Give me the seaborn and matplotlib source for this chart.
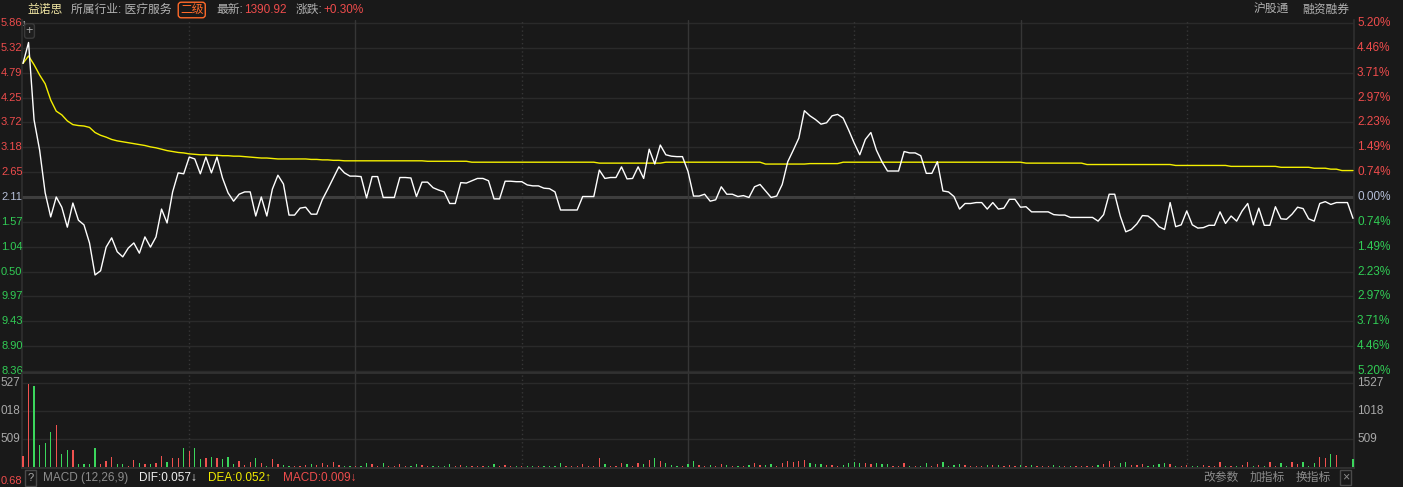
import matplotlib
matplotlib.use("Agg")
import matplotlib.pyplot as plt
import pandas as pd
import seaborn as sns

# ---------------- data (one value per trading minute, 09:30 -> 15:00) ----------------
prev_close = 72.11

price = [
    74.99, 75.44, 73.77, 73.12, 72.20, 71.68, 72.11, 71.89, 71.46, 71.98,
    71.61, 71.51, 71.12, 70.43, 70.52, 71.03, 71.23, 70.93, 70.82, 71.01,
    71.12, 70.90, 71.25, 71.03, 71.25, 71.85, 71.55, 72.22, 72.63, 72.61,
    72.97, 72.93, 72.61, 72.97, 72.63, 72.97, 72.52, 72.20, 72.02, 72.17,
    72.22, 72.22, 71.70, 72.11, 71.70, 72.28, 72.58, 72.39, 71.72, 71.72,
    71.87, 71.89, 71.74, 71.74, 72.05, 72.28, 72.52, 72.76, 72.63, 72.56,
    72.56, 72.55, 72.09, 72.55, 72.55, 72.10, 72.10, 72.10, 72.53, 72.53,
    72.52, 72.12, 72.43, 72.43, 72.31, 72.26, 72.22, 71.97, 71.97, 72.42,
    72.41, 72.46, 72.51, 72.51, 72.46, 72.07, 72.07, 72.45, 72.45, 72.44,
    72.44, 72.37, 72.35, 72.35, 72.30, 72.29, 72.22, 71.83, 71.83, 71.83,
    71.83, 72.12, 72.12, 72.12, 72.69, 72.51, 72.53, 72.53, 72.76, 72.50,
    72.51, 72.76, 72.51, 73.14, 72.82, 73.23, 73.02, 72.99, 72.98, 72.98,
    72.66, 72.13, 72.13, 72.17, 72.02, 72.05, 72.33, 72.17, 72.17, 72.12,
    72.14, 72.10, 72.33, 72.38, 72.24, 72.10, 72.13, 72.38, 72.87, 73.12,
    73.38, 73.97, 73.86, 73.78, 73.68, 73.71, 73.86, 73.89, 73.81, 73.55,
    73.27, 73.02, 73.35, 73.50, 73.12, 72.87, 72.67, 72.67, 72.67, 73.09,
    73.06, 73.06, 73.00, 72.62, 72.62, 72.87, 72.24, 72.22, 72.12, 71.85,
    71.97, 71.97, 71.99, 71.99, 71.85, 71.99, 71.85, 71.87, 72.06, 72.06,
    71.89, 71.90, 71.79, 71.79, 71.79, 71.79, 71.73, 71.72, 71.72, 71.67,
    71.67, 71.67, 71.67, 71.67, 71.59, 71.73, 72.17, 72.17, 71.70, 71.36,
    71.41, 71.53, 71.71, 71.70, 71.61, 71.47, 71.41, 71.99, 71.47, 71.51,
    71.81, 71.51, 71.44, 71.45, 71.50, 71.50, 71.79, 71.54, 71.70, 71.59,
    71.81, 71.97, 71.51, 71.87, 71.50, 71.50, 71.90, 71.64, 71.63, 71.74,
    71.89, 71.86, 71.64, 71.59, 71.97, 72.01, 71.95, 71.99, 71.99, 71.99,
    71.65,
]

avg_price = [
    74.99, 75.15, 74.96, 74.74, 74.55, 74.20, 73.96, 73.88, 73.75, 73.67,
    73.65, 73.64, 73.61, 73.50, 73.44, 73.40, 73.35, 73.32, 73.30, 73.28,
    73.26, 73.24, 73.22, 73.19, 73.17, 73.14, 73.11, 73.09, 73.07, 73.06,
    73.04, 73.03, 73.02, 73.02, 73.01, 73.01, 73.00, 73.00, 72.99, 72.99,
    72.98, 72.97, 72.96, 72.95, 72.95, 72.94, 72.93, 72.93, 72.93, 72.93,
    72.93, 72.93, 72.92, 72.92, 72.91, 72.91, 72.90, 72.90, 72.89, 72.89,
    72.89, 72.89, 72.89, 72.89, 72.89, 72.89, 72.89, 72.89, 72.89, 72.89,
    72.89, 72.89, 72.89, 72.88, 72.88, 72.88, 72.88, 72.88, 72.88, 72.88,
    72.88, 72.86, 72.86, 72.86, 72.86, 72.86, 72.86, 72.86, 72.86, 72.86,
    72.86, 72.86, 72.86, 72.86, 72.86, 72.86, 72.86, 72.86, 72.86, 72.86,
    72.86, 72.86, 72.86, 72.86, 72.84, 72.84, 72.84, 72.84, 72.84, 72.84,
    72.84, 72.84, 72.84, 72.84, 72.84, 72.84, 72.86, 72.86, 72.86, 72.86,
    72.86, 72.86, 72.86, 72.86, 72.86, 72.86, 72.86, 72.86, 72.86, 72.86,
    72.86, 72.86, 72.86, 72.86, 72.82, 72.82, 72.82, 72.82, 72.82, 72.82,
    72.82, 72.82, 72.83, 72.83, 72.83, 72.83, 72.83, 72.83, 72.86, 72.86,
    72.86, 72.86, 72.86, 72.86, 72.86, 72.86, 72.86, 72.86, 72.86, 72.86,
    72.86, 72.86, 72.86, 72.86, 72.86, 72.86, 72.86, 72.86, 72.86, 72.86,
    72.86, 72.86, 72.86, 72.86, 72.86, 72.86, 72.86, 72.86, 72.86, 72.86,
    72.86, 72.84, 72.84, 72.84, 72.84, 72.84, 72.84, 72.84, 72.84, 72.84,
    72.84, 72.84, 72.81, 72.81, 72.81, 72.81, 72.81, 72.81, 72.81, 72.81,
    72.81, 72.81, 72.81, 72.81, 72.81, 72.81, 72.81, 72.81, 72.79, 72.79,
    72.79, 72.79, 72.79, 72.79, 72.79, 72.79, 72.79, 72.79, 72.77, 72.77,
    72.77, 72.77, 72.77, 72.77, 72.77, 72.77, 72.77, 72.75, 72.75, 72.75,
    72.75, 72.75, 72.75, 72.73, 72.73, 72.73, 72.71, 72.71, 72.68, 72.68,
    72.68,
]

volume = [
    203, 1521, 1467, 401, 442, 640, 760, 239, 311, 311,
    60, 56, 60, 347, 60, 114, 185, 60, 60, 30,
    131, 72, 56, 66, 84, 209, 90, 162, 162, 347,
    293, 347, 150, 162, 191, 174, 144, 180, 56, 114,
    45, 90, 168, 84, 30, 150, 60, 45, 30, 30,
    30, 45, 60, 45, 84, 45, 96, 45, 30, 30,
    20, 30, 75, 60, 25, 70, 20, 15, 55, 20,
    25, 65, 45, 20, 30, 25, 20, 60, 15, 50,
    20, 25, 30, 15, 20, 60, 20, 50, 15, 20,
    15, 30, 20, 15, 25, 20, 30, 80, 25, 15,
    20, 55, 20, 25, 160, 60, 30, 20, 85, 55,
    25, 75, 60, 140, 175, 120, 70, 40, 30, 20,
    65, 110, 35, 30, 50, 25, 60, 45, 20, 30,
    20, 35, 70, 40, 50, 60, 25, 75, 120, 100,
    115, 140, 70, 55, 60, 35, 50, 30, 45, 80,
    90, 70, 85, 60, 75, 65, 55, 20, 15, 80,
    30, 20, 25, 70, 20, 55, 95, 30, 45, 60,
    40, 20, 25, 15, 45, 40, 45, 20, 50, 15,
    45, 20, 40, 20, 15, 20, 35, 20, 15, 30,
    20, 15, 20, 15, 35, 55, 110, 30, 70, 90,
    40, 45, 60, 20, 35, 55, 72, 60, 30, 20,
    40, 25, 20, 40, 20, 15, 95, 25, 30, 20,
    40, 95, 20, 40, 20, 95, 15, 80, 15, 90,
    60, 100, 15, 80, 180, 160, 240, 220, 10, 10,
    150,
]

# left-hand labels are shown with their leading digit hidden by the panel edge
price_ticks = [75.86, 75.32, 74.79, 74.25, 73.72, 73.18, 72.65, 72.11,
               71.57, 71.04, 70.50, 69.97, 69.43, 68.90, 68.36]
price_tick_text = ["5.86", "5.32", "4.79", "4.25", "3.72", "3.18", "2.65", "2.11",
                   "1.57", "1.04", "0.50", "9.97", "9.43", "8.90", "8.36"]
pct_labels = ["5.20%", "4.46%", "3.71%", "2.97%", "2.23%", "1.49%", "0.74%", "0.00%",
              "0.74%", "1.49%", "2.23%", "2.97%", "3.71%", "4.46%", "5.20%"]
vol_ticks = [509, 1018, 1527]
vol_tick_text_left = ["509", "018", "527"]
solid_marks = [60, 120, 180]        # 10:30, 11:30/13:00, 14:00
dotted_marks = [30, 90, 150, 210]   # 10:00, 11:00, 13:30, 14:30

# ---------------- style ----------------
BG = "#191919"
RED = "#ee4c4c"
GREEN = "#31cc55"
BAR_RED = "#f0524f"
BAR_GREEN = "#3bd65c"
ZERO = "#b5bfd8"
GRID = "#2a2a2a"
VGRID = "#363636"
GRAY = "#a8a8a8"

sns.set_theme(style="dark", rc={"axes.facecolor": BG, "figure.facecolor": BG})
plt.rcParams["font.family"] = ["Liberation Sans", "Noto Sans CJK SC", "DejaVu Sans"]

W, H = 1403, 487
fig = plt.figure(figsize=(W / 100, H / 100), dpi=100)


def box(x0, y0, x1, y1):
    return [x0 / W, 1 - y1 / H, (x1 - x0) / W, (y1 - y0) / H]


def ftext(x, y, s, **kw):
    kw.setdefault("va", "center")
    kw.setdefault("fontsize", 8.5)
    fig.text(x / W, 1 - y / H, s, **kw)


df = pd.DataFrame({"minute": range(len(price)), "price": price,
                   "avg": avg_price, "volume": volume})
step = 1332 / 240.35  # px per minute

# ---------------- main price panel ----------------
ax = fig.add_axes(box(22, 20, 1354, 373))
k = 7.5 / 348
ax.set_ylim(68.36 - 2 * k, 75.86 + 3 * k)
ax.set_xlim(-1 / step, 240 + 1 / step)

for p in price_ticks:
    if p != prev_close:
        ax.axhline(p, color=GRID, lw=1, zorder=1)
ax.axhline(prev_close, color="#3e3e3e", lw=2.2, zorder=1)
for m in solid_marks:
    ax.axvline(m, color=VGRID, lw=1, zorder=1)
for m in dotted_marks:
    ax.axvline(m, color=VGRID, lw=1, ls=(0, (1, 2)), zorder=1)

sns.lineplot(data=df, x="minute", y="avg", color="#f4ef00", lw=1.0, ax=ax, zorder=3)
sns.lineplot(data=df, x="minute", y="price", color="white", lw=1.0, ax=ax, zorder=4)

tr = ax.get_yaxis_transform()
for p, lt, pl in zip(price_ticks, price_tick_text, pct_labels):
    c = RED if p > prev_close else (GREEN if p < prev_close else ZERO)
    ax.text(-21 / 1332, p, lt, transform=tr, ha="left", va="center",
            color=c, fontsize=8)
    ax.text(1 + 3 / 1332, p, pl, transform=tr, ha="left", va="center",
            color=c, fontsize=8.5)

ax.set_xticks([])
ax.set_yticks([])
ax.set_xlabel("")
ax.set_ylabel("")
for s in ax.spines.values():
    s.set_color("#2e2e2e")
ax.spines["top"].set_visible(False)

# ---------------- volume panel ----------------
vax = fig.add_axes(box(22, 373, 1354, 468))
vax.set_xlim(ax.get_xlim())
vax.set_ylim(-12.6, 1712)
for v in vol_ticks:
    vax.axhline(v, color=GRID, lw=1, zorder=1)
for m in solid_marks:
    vax.axvline(m, color=VGRID, lw=1, zorder=1)
for m in dotted_marks:
    vax.axvline(m, color=VGRID, lw=1, ls=(0, (1, 2)), zorder=1)

colors = [BAR_RED]
for i in range(1, len(price)):
    colors.append(BAR_RED if price[i] >= price[i - 1] else BAR_GREEN)
vax.bar(df["minute"], df["volume"], width=0.24, color=colors,
        edgecolor="none", linewidth=0, zorder=3)

vtr = vax.get_yaxis_transform()
for v, vt in zip(vol_ticks, vol_tick_text_left):
    vax.text(-2 / 1332, v, vt, transform=vtr, ha="right", va="center",
             color=GRAY, fontsize=8.5)
    vax.text(1 + 3 / 1332, v, str(v), transform=vtr, ha="left", va="center",
             color=GRAY, fontsize=8.5)
vax.set_xticks([])
vax.set_yticks([])
vax.set_xlabel("")
vax.set_ylabel("")
for s in vax.spines.values():
    s.set_color("#333333")

# ---------------- header ----------------
ftext(27, 10, "益诺思", color="#efe4a2")
ftext(71, 10, "所属行业: 医疗服务", color="#b2b2b2")
ftext(180, 10, "二级", color="#ff6a2a",
      bbox=dict(boxstyle="round,pad=0.15,rounding_size=0.25", fc="none", ec="#ff6a2a", lw=1))
ftext(216, 10, "最新:", color="#b2b2b2")
ftext(244, 10, "1390.92", color=RED)
ftext(296, 10, "涨跌:", color="#b2b2b2")
ftext(323, 10, "+0.30%", color=RED)
ftext(1254, 10, "沪股通", color="#b2b2b2")
ftext(1302, 10, "融资融券", color="#b2b2b2")

ftext(24, 23, "↕", color="#d8d8d8", fontsize=6.5, ha="center")
ftext(29.5, 31, "+", color="#aaaaaa", fontsize=9, ha="center",
      bbox=dict(boxstyle="round,pad=0.1,rounding_size=0.2", fc="#1e1e1e", ec="#3a3a3a", lw=1))

# ---------------- footer ----------------
ftext(30.5, 478, "?", color="#aaaaaa", fontsize=8, ha="center",
      bbox=dict(boxstyle="square,pad=0.25", fc="none", ec="#4a4a4a", lw=1))
ftext(43, 478, "MACD (12,26,9)", color="#8c8c8c")
ftext(139, 478, "DIF:0.057↓", color="#f0f0f0")
ftext(208, 478, "DEA:0.052↑", color="#f2ec00")
ftext(283, 478, "MACD:0.009↓", color=RED)
ftext(1203, 478, "改参数", color="#8c8c8c")
ftext(1250, 478, "加指标", color="#8c8c8c")
ftext(1296, 478, "换指标", color="#8c8c8c")
ftext(1345.5, 477.5, "×", color="#8c8c8c", fontsize=9, ha="center",
      bbox=dict(boxstyle="square,pad=0.15", fc="none", ec="#4a4a4a", lw=1))
ftext(1, 481, "0.68", color=RED, ha="left", fontsize=8)

fig.savefig("out.png", dpi=100, facecolor=BG)
